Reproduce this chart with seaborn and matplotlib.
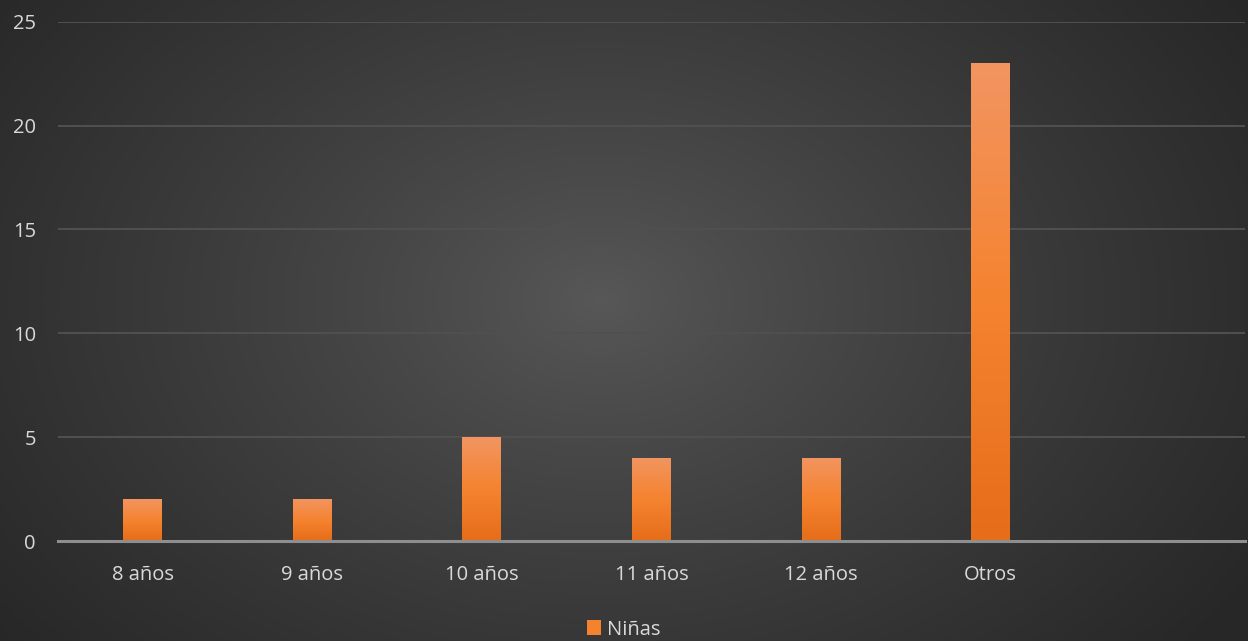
import numpy as np
import pandas as pd
import matplotlib
matplotlib.use("Agg")
import matplotlib.pyplot as plt
import seaborn as sns
from matplotlib.colors import LinearSegmentedColormap
from matplotlib.patches import Patch

# Data
categories = ["8 años", "9 años", "10 años", "11 años", "12 años", "Otros"]
ninas = [2, 2, 5, 4, 4, 23]
y_ticks = [0, 5, 10, 15, 20, 25]
series_name = "Niñas"

df = pd.DataFrame({"categoria": categories, "valor": ninas})

sns.set_theme(style="dark")
plt.rcParams["font.family"] = ["Open Sans", "DejaVu Sans"]

W, H = 1248, 641
fig = plt.figure(figsize=(W / 100, H / 100), dpi=100)

# Radial gradient background
bg_ax = fig.add_axes([0, 0, 1, 1], zorder=0)
yy, xx = np.mgrid[0:H, 0:W]
cx, cy = 600, 300
r = np.sqrt(((xx - cx) / (W * 0.62)) ** 2 + ((yy - cy) / (H * 0.85)) ** 2)
r = np.clip(r, 0, 1)
c_in, c_out = 0x58 / 255, 0x27 / 255
val = c_in + (c_out - c_in) * r ** 0.85
bg = np.dstack([val, val, val])
bg_ax.imshow(bg, aspect="auto", extent=[0, 1, 0, 1], origin="upper")
bg_ax.set_axis_off()

# Main chart
ax = fig.add_axes([0.0465, 0.156, 0.951, 0.81], zorder=1)
ax.set_facecolor("none")

bar_mid = "#F4822F"
sns.barplot(data=df, x="categoria", y="valor", order=categories,
            color=bar_mid, saturation=1, width=0.23, ax=ax, zorder=3,
            linewidth=0, edgecolor="none")

ax.set_xlim(-0.5, 6.5)
ax.set_ylim(0, 25)
ax.set_yticks(y_ticks)
ax.set_xlabel("")
ax.set_ylabel("")

# Vertical gradient fill on each bar
grad_cmap = LinearSegmentedColormap.from_list(
    "naranja", ["#E66D1A", "#F5832F", "#F29561"])
grad = np.linspace(0, 1, 256).reshape(-1, 1)
for patch in list(ax.patches):
    x0, y0 = patch.get_x(), patch.get_y()
    pw, ph = patch.get_width(), patch.get_height()
    if ph <= 0:
        continue
    im = ax.imshow(grad, cmap=grad_cmap, origin="lower", aspect="auto",
                   extent=[x0, x0 + pw, y0, y0 + ph], zorder=3.5)
    im.set_clip_path(patch)
ax.set_xlim(-0.5, 6.5)
ax.set_ylim(0, 25)

# Grid and spines
ax.set_axisbelow(True)
ax.yaxis.grid(True, color="#505050", linewidth=1.4)
ax.xaxis.grid(False)
for side in ["top", "right", "left"]:
    ax.spines[side].set_visible(False)
ax.spines["bottom"].set_color("#8e8e8e")
ax.spines["bottom"].set_linewidth(2.2)
ax.spines["bottom"].set_zorder(4)

ax.tick_params(axis="both", length=0, colors="#D9D9D9", labelsize=14.5)
ax.tick_params(axis="y", pad=16)
ax.tick_params(axis="x", pad=17)

# Legend
handle = Patch(facecolor=bar_mid, edgecolor="none", label=series_name)
leg = fig.legend(handles=[handle], loc="lower center",
                 bbox_to_anchor=(0.5, -0.026), frameon=False,
                 fontsize=14.5, handlelength=0.7, handleheight=0.7,
                 handletextpad=0.3)
for t in leg.get_texts():
    t.set_color("#D9D9D9")

fig.savefig("out.png", dpi=100)
